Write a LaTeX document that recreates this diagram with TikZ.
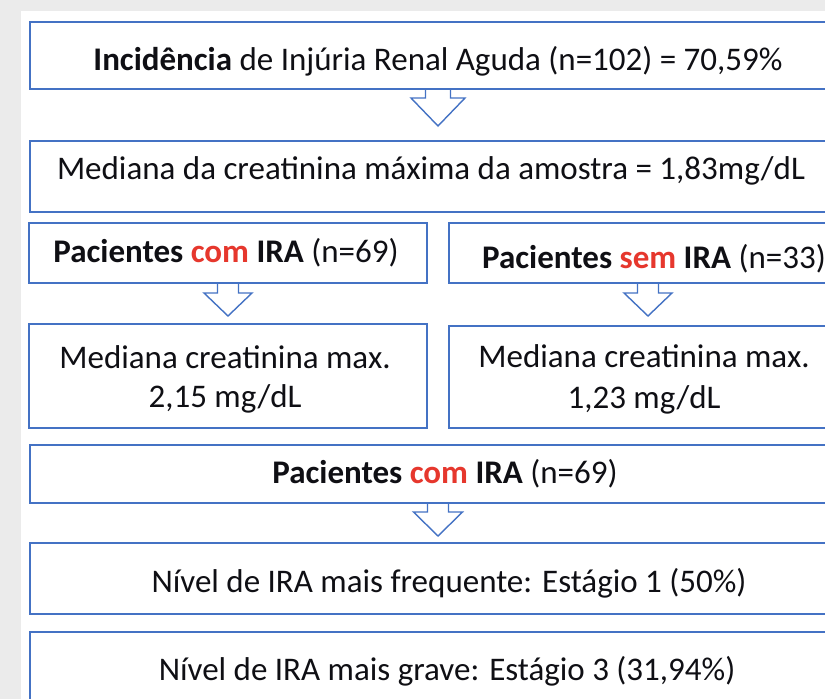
\documentclass[tikz,border=0pt]{standalone}
\usepackage{fontspec}
\setmainfont{Carlito}
\definecolor{boxblue}{RGB}{68,114,196}
\definecolor{accred}{RGB}{230,55,45}
\definecolor{bggray}{RGB}{235,235,235}
\definecolor{txtcol}{RGB}{15,15,20}
\begin{document}
\begin{tikzpicture}[x=1pt,y=-1pt,
  box/.style={draw=boxblue, line width=1.8pt, fill=white, inner sep=0pt, outer sep=0pt, anchor=north west},
  lbl/.style={inner sep=0pt, anchor=base, text=txtcol, font=\fontsize{33}{40}\selectfont},
  blockarr/.style={draw=boxblue, line width=1.4pt, line join=miter}]
\useasboundingbox (0,0) rectangle (825,699);
\clip (0,0) rectangle (825,699);
\fill[bggray] (0,0) rectangle (825,699);
\fill[white] (21,11) rectangle (825,699);

% boxes
\node[box, minimum width=816pt, minimum height=67pt] (b1) at (30,22) {};
\node[box, minimum width=816pt, minimum height=71pt] (b2) at (30,141) {};
\node[box, minimum width=398pt, minimum height=60pt] (b3) at (29,223) {};
\node[box, minimum width=398pt, minimum height=60pt] (b4) at (449,223) {};
\node[box, minimum width=398pt, minimum height=104pt] (b5) at (29,324) {};
\node[box, minimum width=398pt, minimum height=102pt] (b6) at (449,326) {};
\node[box, minimum width=816pt, minimum height=58pt] (b7) at (30,445) {};
\node[box, minimum width=816pt, minimum height=71pt] (b8) at (30,543) {};
\node[box, minimum width=816pt, minimum height=100pt] (b9) at (30,632) {};

% texts
\node[lbl] (t1) at (438,70) {\textbf{Incidência} de Injúria Renal Aguda (n=102) = 70,59\%};
\node[lbl] (t2) at (431,179) {Mediana da creatinina máxima da amostra = 1,83mg/dL};
\node[lbl] (t3) at (226,262) {\textbf{Pacientes \textcolor{accred}{com} IRA} (n=69)};
\node[lbl] (t4) at (654,268) {\textbf{Pacientes \textcolor{accred}{sem} IRA} (n=33)};
\node[lbl] (t5a) at (225,368) {Mediana creatinina max.};
\node[lbl] (t5b) at (225,407) {2,15 mg/dL};
\node[lbl] (t6a) at (644,367) {Mediana creatinina max.};
\node[lbl] (t6b) at (644,408) {1,23 mg/dL};
\node[lbl] (t7) at (445,483) {\textbf{Pacientes \textcolor{accred}{com} IRA} (n=69)};
\node[lbl] (t8) at (449,592) {Nível de IRA mais frequente: Estágio 1 (50\%)};
\node[lbl] (t9) at (447,680) {Nível de IRA mais grave: Estágio 3 (31,94\%)};

% block arrows
\draw[blockarr, shift={(b1.south)}] (-12.5,0) -- (-12.5,9) -- (-27,9) -- (0,37) -- (27,9) -- (12.5,9) -- (12.5,0);
\draw[blockarr, shift={(b3.south)}] (-10.5,0) -- (-10.5,10) -- (-24,10) -- (0,33) -- (24,10) -- (10.5,10) -- (10.5,0);
\draw[blockarr, shift={(b4.south)}] (-10.5,0) -- (-10.5,10) -- (-24,10) -- (0,33) -- (24,10) -- (10.5,10) -- (10.5,0);
\draw[blockarr, shift={(b7.south)}] (-10.5,0) -- (-10.5,9) -- (-24.5,9) -- (0,33) -- (24.5,9) -- (10.5,9) -- (10.5,0);
\end{tikzpicture}
\end{document}
